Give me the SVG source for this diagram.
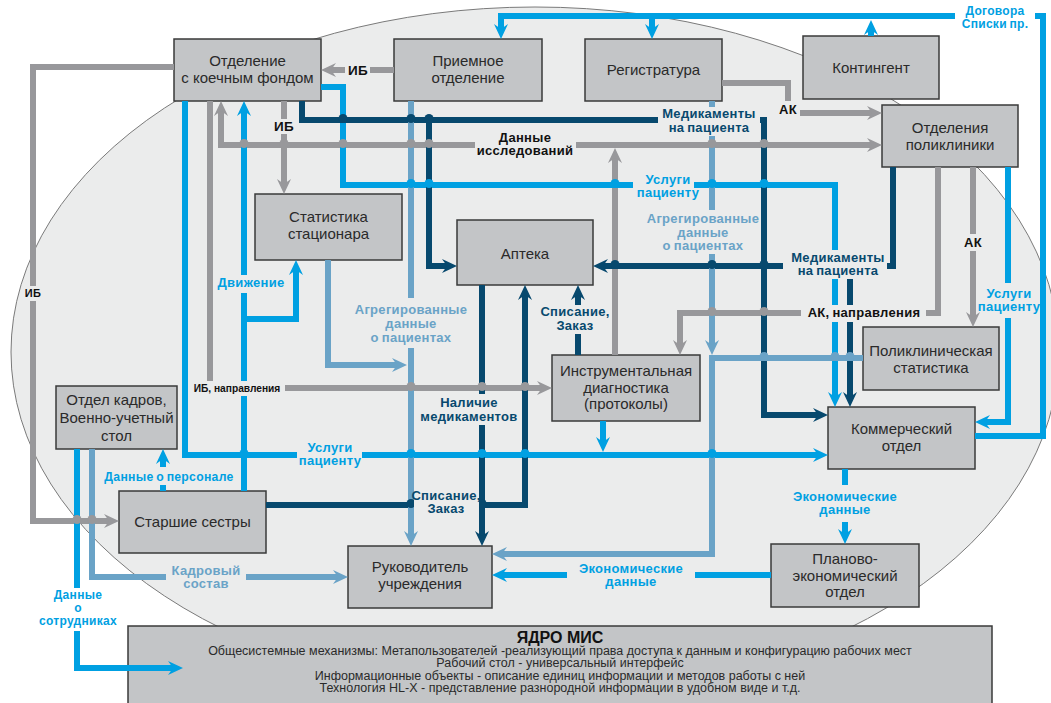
<svg xmlns="http://www.w3.org/2000/svg" width="1051" height="703" viewBox="0 0 1051 703">
<defs>
<style>
.box{fill:#c3c5c7;stroke:#3a3a3a;stroke-width:1.5}
.bt{font-family:"Liberation Sans",Arial,sans-serif;font-size:15px;fill:#2a2a2a;text-anchor:middle}
.c{fill:none;stroke-width:6;stroke-linejoin:miter}
.g{stroke:#98989b}.b{stroke:#00a0e2}.n{stroke:#07496e}.s{stroke:#6aa3c7}
.jg{fill:#98989b}.jb{fill:#00a0e2}.jn{fill:#07496e}.js{fill:#6aa3c7}
.lb{font-family:"Liberation Sans",Arial,sans-serif;font-weight:bold;font-size:13px;letter-spacing:0.3px;word-spacing:-1px;text-anchor:middle}
.tk{fill:#111}.tb{fill:#00a0e2}.tn{fill:#07496e}.ts{fill:#6aa3c7}
.bg{fill:#ebecec}.bw{fill:#fff}
.yt{font-family:"Liberation Sans",Arial,sans-serif;font-size:12.5px;fill:#2a2a2a;text-anchor:middle}
</style>
<marker id="ag" viewBox="0 0 16 16" markerWidth="16" markerHeight="16" refX="6" refY="8" orient="auto-start-reverse" markerUnits="userSpaceOnUse"><path d="M0,1 L15,8 L0,15 L5,8 Z" fill="#98989b"/></marker>
<marker id="ab" viewBox="0 0 16 16" markerWidth="16" markerHeight="16" refX="6" refY="8" orient="auto-start-reverse" markerUnits="userSpaceOnUse"><path d="M0,1 L15,8 L0,15 L5,8 Z" fill="#00a0e2"/></marker>
<marker id="an" viewBox="0 0 16 16" markerWidth="16" markerHeight="16" refX="6" refY="8" orient="auto-start-reverse" markerUnits="userSpaceOnUse"><path d="M0,1 L15,8 L0,15 L5,8 Z" fill="#07496e"/></marker>
<marker id="as" viewBox="0 0 16 16" markerWidth="16" markerHeight="16" refX="6" refY="8" orient="auto-start-reverse" markerUnits="userSpaceOnUse"><path d="M0,1 L15,8 L0,15 L5,8 Z" fill="#6aa3c7"/></marker>
</defs>
<rect width="1051" height="703" fill="#fff"/>
<ellipse cx="535" cy="352" rx="524" ry="345" fill="#ebecec" stroke="#7a7a7a" stroke-width="1"/>

<g id="n-otdelenie"><rect class="box" x="174" y="39" width="147" height="62"/><text class="bt" x="247.5" y="66">Отделение</text><text class="bt" x="247.5" y="83">с коечным фондом</text></g>
<g id="n-priemnoe"><rect class="box" x="394" y="39" width="148" height="62"/><text class="bt" x="468" y="66">Приемное</text><text class="bt" x="468" y="83">отделение</text></g>
<g id="n-registratura"><rect class="box" x="585" y="39" width="137" height="62"/><text class="bt" x="653.5" y="75">Регистратура</text></g>
<g id="n-kontingent"><rect class="box" x="803" y="36" width="136" height="63"/><text class="bt" x="871" y="73">Контингент</text></g>
<g id="n-poliklinika"><rect class="box" x="882" y="105" width="136" height="62"/><text class="bt" x="950" y="133">Отделения</text><text class="bt" x="950" y="150">поликлиники</text></g>
<g id="n-stat-stac"><rect class="box" x="255" y="194" width="147" height="66"/><text class="bt" x="328.5" y="222">Статистика</text><text class="bt" x="328.5" y="239">стационара</text></g>
<g id="n-apteka"><rect class="box" x="457" y="220" width="136" height="65"/><text class="bt" x="525" y="259">Аптека</text></g>
<g id="n-instr"><rect class="box" x="552" y="355" width="148" height="66"/><text class="bt" x="626" y="376">Инструментальная</text><text class="bt" x="626" y="393">диагностика</text><text class="bt" x="626" y="409">(протоколы)</text></g>
<g id="n-polistat"><rect class="box" x="863" y="327" width="136" height="63"/><text class="bt" x="931" y="356">Поликлиническая</text><text class="bt" x="931" y="373">статистика</text></g>
<g id="n-kommerch"><rect class="box" x="828" y="407" width="147" height="62"/><text class="bt" x="901.5" y="434">Коммерческий</text><text class="bt" x="901.5" y="451">отдел</text></g>
<g id="n-kadry"><rect class="box" x="56" y="386" width="121" height="63"/><text class="bt" x="116.5" y="405">Отдел кадров,</text><text class="bt" x="116.5" y="423">Военно-учетный</text><text class="bt" x="116.5" y="441">стол</text></g>
<g id="n-sestry"><rect class="box" x="119" y="491" width="147" height="62"/><text class="bt" x="192.5" y="527">Старшие сестры</text></g>
<g id="n-rukovod"><rect class="box" x="348" y="546" width="144" height="62"/><text class="bt" x="420" y="572">Руководитель</text><text class="bt" x="420" y="589">учреждения</text></g>
<g id="n-pe"><rect class="box" x="771" y="544" width="148" height="63"/><text class="bt" x="845" y="564">Планово-</text><text class="bt" x="845" y="581">экономический</text><text class="bt" x="845" y="597">отдел</text></g>
<g id="n-yadro"><rect class="box" x="128" y="626" width="864" height="90"/>
<text x="560" y="643" font-family="Liberation Sans, Arial, sans-serif" font-weight="bold" font-size="16" fill="#111" text-anchor="middle">ЯДРО МИС</text>
<text class="yt" x="560" y="655">Общесистемные механизмы: Метапользователей -реализующий права доступа к данным и конфигурацию рабочих мест</text>
<text class="yt" x="560" y="667">Рабочий стол - универсальный интерфейс</text>
<text class="yt" x="560" y="680">Информационные объекты - описание единиц информации и методов работы с ней</text>
<text class="yt" x="560" y="692">Технология HL-X - представление разнородной информации в удобном виде и т.д.</text>
</g>

<g id="connectors">
<path class="c g" d="M174,67 H33 V521 H110" marker-end="url(#ag)"/>
<path class="c g" d="M394,70 H330" marker-end="url(#ag)"/>
<path class="c g" d="M284,101 V185" marker-end="url(#ag)"/>
<path class="c g" d="M221,110 V145 H873" marker-start="url(#ag)" marker-end="url(#ag)"/>
<path class="c g" d="M615,355 V157" marker-end="url(#ag)"/>
<path class="c g" d="M210,101 V388 H543" marker-end="url(#ag)"/>
<path class="c g" d="M722,83 H788 V113 H873" marker-end="url(#ag)"/>
<path class="c g" d="M938,167 V313 H680 V346" marker-end="url(#ag)"/>
<path class="c g" d="M973,167 V318" marker-end="url(#ag)"/>

<path class="c b" d="M975,436 H1043 V16 H501 V30" marker-end="url(#ab)"/>
<path class="c b" d="M652,16 V30" marker-end="url(#ab)"/>
<path class="c b" d="M871,36 V29" marker-end="url(#ab)"/>
<path class="c b" d="M185,101 V455 H819" marker-end="url(#ab)"/>
<path class="c b" d="M244,491 V110" marker-end="url(#ab)"/>
<path class="c b" d="M244,319 H296 V269" marker-end="url(#ab)"/>
<path class="c b" d="M321,87 H343 V185 H835 V398" marker-end="url(#ab)"/>
<path class="c b" d="M1008,167 V422 H984" marker-end="url(#ab)"/>
<path class="c b" d="M845,469 V535" marker-end="url(#ab)"/>
<path class="c b" d="M771,575 H501" marker-end="url(#ab)"/>
<path class="c b" d="M163,491 V458" marker-end="url(#ab)"/>
<path class="c b" d="M77,449 V668 H174" marker-end="url(#ab)"/>
<path class="c b" d="M603,421 V443" marker-end="url(#ab)"/>

<path class="c n" d="M302,101 V120 H764 V415 H819" marker-end="url(#an)"/>
<path class="c n" d="M429,120 V266 H448" marker-end="url(#an)"/>
<path class="c n" d="M893,167 V266 H602" marker-end="url(#an)"/>
<path class="c n" d="M850,266 V398" marker-end="url(#an)"/>
<path class="c n" d="M482,285 V537" marker-end="url(#an)"/>
<path class="c n" d="M266,505 H525 V294" marker-end="url(#an)"/>
<path class="c n" d="M578,355 V294" marker-end="url(#an)"/>

<path class="c s" d="M92,449 V577 H339" marker-end="url(#as)"/>
<path class="c s" d="M411,101 V537" marker-end="url(#as)"/>
<path class="c s" d="M328,260 V365 H398" marker-end="url(#as)"/>
<path class="c s" d="M712,101 V346" marker-end="url(#as)"/>
<path class="c s" d="M863,358 H712 V554 H501" marker-end="url(#as)"/>

<g class="jg">
<circle cx="244" cy="143.5" r="4.5"/><circle cx="284" cy="143.5" r="4.5"/><circle cx="343" cy="143.5" r="4.5"/><circle cx="411" cy="143.5" r="4.5"/><circle cx="429" cy="143.5" r="4.5"/><circle cx="712" cy="143.5" r="4.5"/><circle cx="764" cy="143.5" r="4.5"/>
<circle cx="411" cy="386.5" r="4.5"/><circle cx="482" cy="386.5" r="4.5"/><circle cx="525" cy="386.5" r="4.5"/>
<circle cx="712" cy="311.5" r="4.5"/><circle cx="764" cy="311.5" r="4.5"/>
<circle cx="77" cy="519.5" r="4.5"/><circle cx="92" cy="519.5" r="4.5"/>
</g>
<g class="jb">
<circle cx="411" cy="183.5" r="4.5"/><circle cx="429" cy="183.5" r="4.5"/><circle cx="615" cy="183.5" r="4.5"/><circle cx="712" cy="183.5" r="4.5"/><circle cx="764" cy="183.5" r="4.5"/>
<circle cx="244" cy="453.5" r="4.5"/><circle cx="411" cy="453.5" r="4.5"/><circle cx="482" cy="453.5" r="4.5"/><circle cx="525" cy="453.5" r="4.5"/><circle cx="712" cy="453.5" r="4.5"/>
</g>
<g class="jn">
<circle cx="343" cy="118.5" r="4.5"/><circle cx="411" cy="118.5" r="4.5"/><circle cx="429" cy="118.5" r="4.5"/>
<circle cx="615" cy="264.5" r="4.5"/><circle cx="712" cy="264.5" r="4.5"/><circle cx="764" cy="264.5" r="4.5"/>
<circle cx="411" cy="503.5" r="4.5"/><circle cx="482" cy="503.5" r="4.5"/>
</g>
<g class="js">
<circle cx="764" cy="356.5" r="4.5"/><circle cx="835" cy="356.5" r="4.5"/><circle cx="850" cy="356.5" r="4.5"/>
</g>

<g id="labels">
<rect class="bg" x="345" y="62" width="25" height="16"/><text class="lb tk" x="358" y="75" style="font-size:13.5px">ИБ</text>
<rect class="bg" x="272" y="119" width="24" height="15"/><text class="lb tk" x="284" y="131" style="font-size:13.5px">ИБ</text>
<rect class="bg" x="24" y="286" width="19" height="15"/><text class="lb tk" x="33" y="297" style="font-size:11px">ИБ</text>
<rect class="bg" x="189" y="381" width="96" height="15"/><text class="lb tk" x="237" y="392" style="font-size:10.2px;letter-spacing:0;word-spacing:0">ИБ, направления</text>
<rect class="bg" x="475" y="130" width="101" height="28"/><text class="lb tk" x="525" y="142">Данные</text><text class="lb tk" x="525" y="155">исследований</text>
<rect class="bg" x="658" y="107" width="102" height="29"/><text class="lb tn" x="709" y="118">Медикаменты</text><text class="lb tn" x="709" y="132">на пациента</text>
<rect class="bg" x="633" y="173" width="61" height="28"/><text class="lb tb" x="668" y="184">Услуги</text><text class="lb tb" x="668" y="197">пациенту</text>
<rect class="bg" x="644" y="210" width="116" height="44"/><text class="lb ts" x="703" y="223">Агрегированные</text><text class="lb ts" x="703" y="237">данные</text><text class="lb ts" x="703" y="250">о пациентах</text>
<rect class="bg" x="783" y="250" width="104" height="29"/><text class="lb tn" x="838" y="262">Медикаменты</text><text class="lb tn" x="838" y="275">на пациента</text>
<rect class="bg" x="776" y="101" width="24" height="17"/><text class="lb tk" x="788" y="114">АК</text>
<rect class="bg" x="962" y="234" width="22" height="17"/><text class="lb tk" x="973" y="247">АК</text>
<rect class="bg" x="801" y="305" width="125" height="17"/><text class="lb tk" x="864" y="317">АК, направления</text>
<rect class="bg" x="980" y="283" width="58" height="35"/><text class="lb tb" x="1009" y="298">Услуги</text><text class="lb tb" x="1009" y="311">пациенту</text>
<rect class="bg" x="214" y="275" width="74" height="18"/><text class="lb tb" x="251" y="287">Движение</text>
<rect class="bg" x="352" y="298" width="117" height="50"/><text class="lb ts" x="411" y="314">Агрегированные</text><text class="lb ts" x="411" y="328">данные</text><text class="lb ts" x="411" y="342">о пациентах</text>
<rect class="bg" x="539" y="305" width="72" height="29"/><text class="lb tn" x="575" y="316">Списание,</text><text class="lb tn" x="575" y="330">Заказ</text>
<rect class="bg" x="417" y="394" width="104" height="31"/><text class="lb tn" x="469" y="407">Наличие</text><text class="lb tn" x="469" y="421">медикаментов</text>
<rect class="bg" x="297" y="441" width="65" height="28"/><text class="lb tb" x="330" y="452">Услуги</text><text class="lb tb" x="330" y="465">пациенту</text>
<rect class="bg" x="101" y="467" width="136" height="18"/><text class="lb tb" x="169" y="481" style="font-size:12.2px">Данные о персонале</text>
<rect class="bg" x="414" y="488" width="65" height="28"/><text class="lb tn" x="446" y="500">Списание,</text><text class="lb tn" x="446" y="513">Заказ</text>
<rect class="bg" x="166" y="562" width="80" height="29"/><text class="lb ts" x="206" y="575">Кадровый</text><text class="lb ts" x="206" y="588">состав</text>
<rect class="bw" x="33" y="588" width="91" height="43"/><text class="lb tb" x="78" y="599" style="font-size:12px">Данные</text><text class="lb tb" x="78" y="612" style="font-size:12px">о</text><text class="lb tb" x="78" y="625" style="font-size:12px">сотрудниках</text>
<rect class="bg" x="567" y="561" width="128" height="29"/><text class="lb tb" x="631" y="573">Экономические</text><text class="lb tb" x="631" y="586">данные</text>
<rect class="bg" x="790" y="485" width="110" height="37"/><text class="lb tb" x="845" y="501">Экономические</text><text class="lb tb" x="845" y="514">данные</text>
<rect class="bw" x="955" y="3" width="80" height="29"/><text class="lb tb" x="995" y="15" style="font-size:12px">Договора</text><text class="lb tb" x="995" y="28" style="font-size:12px">Списки пр.</text>
</g>
</g>
</svg>
